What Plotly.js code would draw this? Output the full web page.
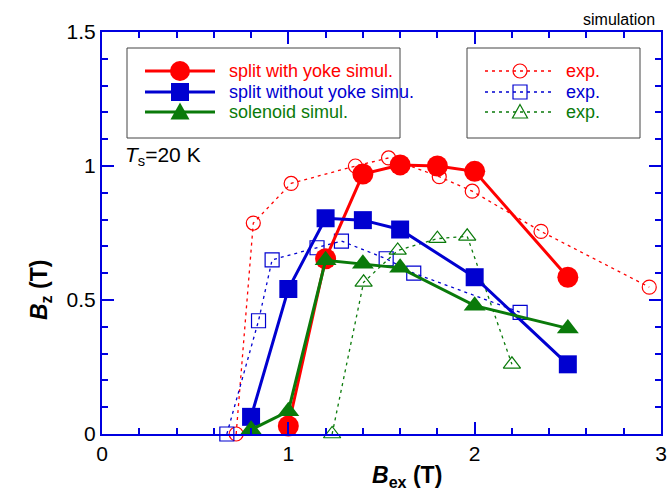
<!DOCTYPE html>
<html>
<head>
<meta charset="utf-8">
<script src="https://cdn.plot.ly/plotly-3.0.1.min.js"></script>
<style>html,body{margin:0;padding:0;background:#fff;} #chart{width:668px;height:499px;}</style>
</head>
<body>
<div id="chart"></div>
<script>
// Simulation data
const simX_yoke = [1.0, 1.2, 1.4, 1.6, 1.8, 2.0, 2.5];
const simY_yoke = [0.03, 0.654, 0.97, 1.004, 1.0, 0.98, 0.585];
const simX_noyoke = [0.8, 1.0, 1.2, 1.4, 1.6, 2.0, 2.5];
const simY_noyoke = [0.064, 0.541, 0.805, 0.798, 0.763, 0.585, 0.26];
const simX_sol = [0.8, 1.0, 1.2, 1.4, 1.6, 2.0, 2.5];
const simY_sol = [0.016, 0.085, 0.648, 0.635, 0.62, 0.479, 0.394];
// Experimental data
const expX_yoke = [0.72, 0.812, 1.015, 1.36, 1.538, 1.81, 1.987, 2.356, 2.937];
const expY_yoke = [0.0, 0.787, 0.935, 1.0, 1.03, 0.96, 0.906, 0.756, 0.548];
const expX_noyoke = [0.67, 0.84, 0.913, 1.154, 1.285, 1.525, 1.673, 2.244];
const expY_noyoke = [0.0, 0.4225, 0.65, 0.695, 0.72, 0.654, 0.60, 0.454];
const expX_sol = [1.235, 1.404, 1.587, 1.80, 1.96, 2.20];
const expY_sol = [0.0, 0.566, 0.685, 0.729, 0.7375, 0.26];
// Labels
const simNames = ['split with yoke simul.', 'split without yoke simu.', 'solenoid simul.'];
const expNames = ['exp.', 'exp.', 'exp.'];
const colors = ['#ff0000', '#0000d0', '#0a7a0a'];
const xTicks = [0, 1, 2, 3];
const yTicks = [0, 0.5, 1, 1.5];
const yTickText = ['0', '0.5', '1', '1.5'];

const simSymbols = ['circle', 'square', 'triangle-up'];
const expSymbols = ['circle-open', 'square-open', 'triangle-up-open'];
const simSizes = [21, 18, 19];
const expSizes = [14, 14, 15];
const simXs = [simX_yoke, simX_noyoke, simX_sol];
const simYs = [simY_yoke, simY_noyoke, simY_sol];
const expXs = [expX_yoke, expX_noyoke, expX_sol];
const expYs = [expY_yoke, expY_noyoke, expY_sol];
const expDash = '3px,4px';

const traces = [];
for (let i = 0; i < 3; i++) {
  traces.push({
    x: expXs[i], y: expYs[i], mode: 'lines+markers', type: 'scatter', name: expNames[i],
    showlegend: false,
    line: {color: colors[i], width: 1.3, dash: expDash},
    marker: {symbol: expSymbols[i], size: expSizes[i], color: colors[i], line: {width: 1.2, color: colors[i]}},
    cliponaxis: false
  });
}
for (let i = 0; i < 3; i++) {
  traces.push({
    x: simXs[i], y: simYs[i], mode: 'lines+markers', type: 'scatter', name: simNames[i],
    showlegend: false,
    line: {color: colors[i], width: 3},
    marker: {symbol: simSymbols[i], size: simSizes[i], color: colors[i]},
    cliponaxis: false
  });
}
// invisible trace to activate mirror axes
traces.push({x: [0], y: [0], xaxis: 'x2', yaxis: 'y2', mode: 'markers', marker: {opacity: 0}, showlegend: false, hoverinfo: 'skip'});

// plot-area pixel geometry -> paper coords (for the hand-built legend)
const L = 102, R = 661, T = 32, B = 434;
const px = v => (v - L) / (R - L);
const py = v => (B - v) / (B - T);

const shapes = [];
const annotations = [];
// legend boxes
shapes.push({type: 'rect', xref: 'paper', yref: 'paper', x0: px(127), x1: px(400), y0: py(48), y1: py(138), line: {color: '#444', width: 1}, fillcolor: '#fff', layer: 'below'});
shapes.push({type: 'rect', xref: 'paper', yref: 'paper', x0: px(467), x1: px(640), y0: py(48), y1: py(138), line: {color: '#444', width: 1}, fillcolor: '#fff', layer: 'below'});
const rows = [71, 92, 112];
function markerShape(kind, cx, cy, r, color, filled) {
  const base = {xref: 'paper', yref: 'paper', line: {color: color, width: filled ? 0 : 1.2}, fillcolor: filled ? color : 'rgba(0,0,0,0)'};
  if (kind === 'circle') return Object.assign(base, {type: 'circle', x0: px(cx - r), x1: px(cx + r), y0: py(cy + r), y1: py(cy - r)});
  if (kind === 'square') return Object.assign(base, {type: 'rect', x0: px(cx - r), x1: px(cx + r), y0: py(cy + r), y1: py(cy - r)});
  // triangle
  const h = r * 1.0;
  const p = 'M' + px(cx) + ',' + py(cy - h) + ' L' + px(cx + r) + ',' + py(cy + h * 0.8) + ' L' + px(cx - r) + ',' + py(cy + h * 0.8) + ' Z';
  return Object.assign(base, {type: 'path', path: p});
}
const kinds = ['circle', 'square', 'triangle'];
const simR = [10, 9, 9.5];
const expR = [7, 7, 7.5];
for (let i = 0; i < 3; i++) {
  const y = rows[i];
  shapes.push({type: 'line', xref: 'paper', yref: 'paper', x0: px(145), x1: px(215), y0: py(y), y1: py(y), line: {color: colors[i], width: 3}});
  shapes.push(markerShape(kinds[i], 180, y, simR[i], colors[i], true));
  annotations.push({xref: 'paper', yref: 'paper', x: px(227), y: py(y), xanchor: 'left', yanchor: 'middle', showarrow: false,
    text: simNames[i], font: {size: 18, color: colors[i]}});
  shapes.push({type: 'line', xref: 'paper', yref: 'paper', x0: px(485), x1: px(555), y0: py(y), y1: py(y), line: {color: colors[i], width: 1.3, dash: expDash}});
  shapes.push(markerShape(kinds[i], 520, y, expR[i], colors[i], false));
  annotations.push({xref: 'paper', yref: 'paper', x: px(564), y: py(y), xanchor: 'left', yanchor: 'middle', showarrow: false,
    text: expNames[i], font: {size: 18, color: colors[i]}});
}
annotations.push({xref: 'paper', yref: 'paper', x: px(123), y: py(156), xanchor: 'left', yanchor: 'middle',
  text: '<i>T</i><sub>s</sub>=20 K', showarrow: false, font: {size: 21, color: '#000'}});
annotations.push({xref: 'paper', yref: 'paper', x: px(657), y: py(20), xanchor: 'right', yanchor: 'middle',
  text: 'simulation', showarrow: false, font: {size: 16, color: '#000'}});
annotations.push({xref: 'paper', yref: 'paper', x: px(407), y: py(476), xanchor: 'center', yanchor: 'middle',
  text: '<b><i>B</i><sub>ex</sub> (T)</b>', showarrow: false, font: {size: 23, color: '#000'}});
annotations.push({xref: 'paper', yref: 'paper', x: px(40), y: py(290), xanchor: 'center', yanchor: 'middle', textangle: -90,
  text: '<b><i>B</i><sub>z</sub> (T)</b>', showarrow: false, font: {size: 23, color: '#000'}});

const axisBlue = '#0000e0';
const common = {
  showgrid: false, zeroline: false,
  showline: true, linecolor: axisBlue, linewidth: 2,
  ticks: 'inside', ticklen: 12, tickwidth: 2, tickcolor: axisBlue,
  tickfont: {size: 21, color: '#000'}
};
const layout = {
  width: 668, height: 499,
  margin: {l: L, r: 668 - R, t: T, b: 499 - B},
  paper_bgcolor: '#fff', plot_bgcolor: '#fff',
  font: {family: 'Liberation Sans, Arial, sans-serif', color: '#000', size: 20},
  showlegend: false,
  xaxis: Object.assign({}, common, {
    range: [0, 3], tickvals: xTicks, ticktext: xTicks.map(String),
    minor: {dtick: 0.2, ticks: 'inside', ticklen: 6, tickwidth: 2, tickcolor: axisBlue, showgrid: false}
  }),
  yaxis: Object.assign({}, common, {
    range: [0, 1.5], tickvals: yTicks, ticktext: yTickText,
    minor: {dtick: 0.1, ticks: 'inside', ticklen: 6, tickwidth: 2, tickcolor: axisBlue, showgrid: false}
  }),
  xaxis2: Object.assign({}, common, {
    overlaying: 'x', side: 'top', anchor: 'y2', range: [0, 3], tickvals: xTicks, showticklabels: false,
    minor: {dtick: 0.2, ticks: 'inside', ticklen: 6, tickwidth: 2, tickcolor: axisBlue, showgrid: false}
  }),
  yaxis2: Object.assign({}, common, {
    overlaying: 'y', side: 'right', anchor: 'x2', range: [0, 1.5], tickvals: yTicks, showticklabels: false,
    minor: {dtick: 0.1, ticks: 'inside', ticklen: 6, tickwidth: 2, tickcolor: axisBlue, showgrid: false}
  }),
  shapes: shapes,
  annotations: annotations
};

Plotly.newPlot('chart', traces, layout, {displayModeBar: false, staticPlot: true});
</script>
</body>
</html>
